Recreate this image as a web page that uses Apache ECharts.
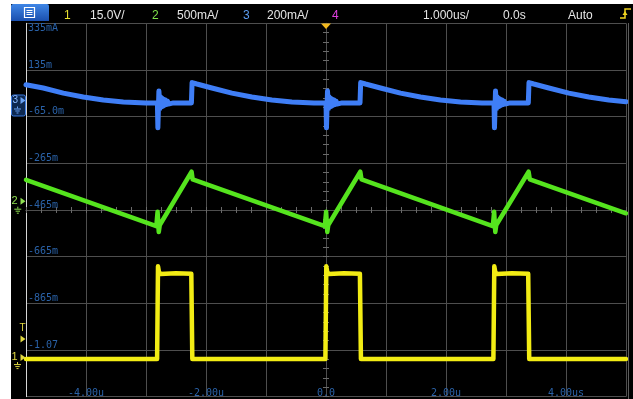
<!DOCTYPE html>
<html>
<head>
<meta charset="utf-8">
<script src="https://cdn.jsdelivr.net/npm/echarts@6/dist/echarts.min.js"></script>
<style>
  html, body { margin: 0; padding: 0; background: #fff; }
  #scope { width: 633px; height: 399px; }
</style>
</head>
<body>
<div id="scope"></div>
<script>
// ---------------- captured waveforms (time in µs) ----------------
// Channel 1: switch-node voltage (V)
const ch1Time  = [-5.000, -2.815, -2.800, -2.785, -2.760, -2.500, -2.245, -2.228,
                  -0.010,  0.005,  0.020,  0.045,  0.300,  0.565,  0.582,
                   2.790,  2.805,  2.820,  2.845,  3.100,  3.370,  3.387,  5.000];
const ch1Volts = [-0.3, -0.3, 29.5, 27.8, 27.0, 27.3, 27.1, -0.3,
                  -0.3, 29.5, 27.8, 27.0, 27.3, 27.1, -0.3,
                  -0.3, 29.5, 27.8, 27.0, 27.3, 27.1, -0.3, -0.3];

// Channel 2: inductor current (mA)
const ch2Time = [-5.000, -2.828, -2.807, -2.787, -2.770, -2.240, -2.222,
                 -0.020,  0.002,  0.022,  0.038,  0.572,  0.592,
                  2.780,  2.802,  2.822,  2.838,  3.377,  3.397,  5.000];
const ch2mA   = [234, -262, -107, -325, -250, 321, 238,
                 -262, -107, -325, -250, 321, 238,
                 -262, -107, -325, -250, 321, 238, -124];

// Channel 3: output-side current (mA)
const ch3Time = [-5.000, -4.712, -4.378, -4.045, -3.712, -3.378, -3.000,
                 -2.810, -2.802, -2.785, -2.768, -2.757, -2.743, -2.730, -2.717, -2.703,
                 -2.690, -2.677, -2.660, -2.643, -2.627, -2.610, -2.593, -2.568, -2.543,
                 -2.243, -2.232, -2.152, -1.902, -1.568, -1.235, -0.902, -0.568, -0.200,
                  0.000,  0.008,  0.025,  0.042,  0.053,  0.067,  0.080,  0.093,  0.107,
                  0.120,  0.133,  0.150,  0.167,  0.183,  0.200,  0.217,  0.242,  0.267,
                  0.567,  0.578,  0.658,  0.908,  1.242,  1.575,  1.908,  2.242,  2.600,
                  2.800,  2.808,  2.825,  2.842,  2.853,  2.867,  2.880,  2.893,  2.907,
                  2.920,  2.933,  2.950,  2.967,  2.983,  3.000,  3.017,  3.042,  3.067,
                  3.372,  3.383,  3.463,  3.713,  4.047,  4.380,  4.713,  5.000];
const ch3mA   = [72, 58, 36, 19, 6, -2, -6,
                 -6, -113, 45, -30, 20, -24, 14, -20, 10,
                 -16, 6, -13, 2, -11, -3, -9, -5, -6,
                 -6, 81, 75, 58, 36, 19, 6, -2, -6,
                 -6, -113, 45, -30, 20, -24, 14, -20, 10,
                 -16, 6, -13, 2, -11, -3, -9, -5, -6,
                 -6, 81, 75, 58, 36, 19, 6, -2, -6,
                 -6, -113, 45, -30, 20, -24, 14, -20, 10,
                 -16, 6, -13, 2, -11, -3, -9, -5, -6,
                 -6, 81, 75, 58, 36, 19, 6, -1];

// Graticule annotations
const timeTicks      = [-4, -2, 0, 2, 4];
const timeTickLabels = ['-4.00u', '-2.00u', '0.0', '2.00u', '4.00us'];
const ch3Ticks       = [335, 135, -65, -265, -465, -665, -865, -1065];
const ch3TickLabels  = ['335mA', '135m', '-65.0m', '-265m', '-465m', '-665m', '-865m', '-1.07'];
const triggerLevelV  = 6.1;

// Status bar
const statusItems = [
  { text: '1',        x: 64,  color: '#e8e030' },
  { text: '15.0V/',   x: 90,  color: '#e6e6e6' },
  { text: '2',        x: 152, color: '#7ee04a' },
  { text: '500mA/',   x: 177, color: '#e6e6e6' },
  { text: '3',        x: 243, color: '#5b9cf0' },
  { text: '200mA/',   x: 267, color: '#e6e6e6' },
  { text: '4',        x: 332, color: '#e040e0' },
  { text: '1.000us/', x: 423, color: '#e6e6e6' },
  { text: '0.0s',     x: 503, color: '#e6e6e6' },
  { text: 'Auto',     x: 568, color: '#e6e6e6' }
];

// ---------------- styling ----------------
const GRID_C  = '#4e4e4e';
const TICK_C  = '#6a6a6a';
const LABEL_C = '#2a62a8';
const MONO    = 'DejaVu Sans Mono';
const C1 = '#f2ec14', C2 = '#55e41e', C3 = '#3f7ef6';

const pairs = (ts, vs) => ts.map((t, i) => [t, vs[i]]);
const lookup = (ticks, labels) => v => {
  const i = ticks.findIndex(t => Math.abs(t - v) < 1e-6);
  return i < 0 ? '' : labels[i];
};

const centerTickAxisX = inside => ({
  type: 'value', min: -5, max: 5, interval: 1, position: 'bottom',
  axisLine: { show: true, onZero: true, onZeroAxisIndex: 3, lineStyle: { color: GRID_C } },
  axisTick: { show: true, inside, length: 3, lineStyle: { color: TICK_C } },
  minorTick: { show: true, splitNumber: 4, length: 3, lineStyle: { color: TICK_C } },
  axisLabel: { show: false }, splitLine: { show: false }
});
const centerTickAxisY = inside => ({
  type: 'value', min: -4, max: 4, interval: 1, position: 'left',
  axisLine: { show: true, onZero: true, onZeroAxisIndex: 0, lineStyle: { color: GRID_C } },
  axisTick: { show: true, inside, length: 3, lineStyle: { color: TICK_C } },
  minorTick: { show: true, splitNumber: 5, length: 3, lineStyle: { color: TICK_C } },
  axisLabel: { show: false }, splitLine: { show: false }
});

const trace = (name, data, yAxisIndex, color, width) => ({
  name, type: 'line', xAxisIndex: 0, yAxisIndex, data,
  showSymbol: false, symbol: 'none', silent: true, clip: true,
  lineStyle: { color, width, join: 'round', cap: 'round' },
  emphasis: { disabled: true }
});

const chart = echarts.init(document.getElementById('scope'));
chart.setOption({
  animation: false,
  backgroundColor: '#000',
  grid: { left: 26, top: 23.33, width: 600, height: 373.33, containLabel: false },
  xAxis: [
    {
      type: 'value', min: -5, max: 5, interval: 1, position: 'bottom',
      axisLine: { show: false, onZero: false },
      axisTick: { show: false },
      splitLine: { show: true, lineStyle: { color: GRID_C, width: 1 } },
      axisLabel: {
        inside: true, margin: -2, color: LABEL_C, fontFamily: MONO, fontSize: 10,
        formatter: lookup(timeTicks, timeTickLabels)
      }
    },
    centerTickAxisX(false),
    centerTickAxisX(true)
  ],
  yAxis: [
    {
      // channel 3, 200 mA/div
      type: 'value', min: -1265, max: 335, interval: 200, position: 'left',
      axisLine: { show: true, onZero: false, lineStyle: { color: '#d6d6d6', width: 1 } },
      axisTick: { show: false },
      splitLine: { show: true, lineStyle: { color: GRID_C, width: 1 } },
      axisLabel: {
        inside: true, margin: 2, color: LABEL_C, fontFamily: MONO, fontSize: 10,
        verticalAlign: 'bottom', verticalAlignMaxLabel: 'top',
        formatter: lookup(ch3Ticks, ch3TickLabels)
      }
    },
    // channel 2, 500 mA/div
    { type: 'value', min: -2089, max: 1911, show: false, axisLine: { onZero: false } },
    // channel 1, 15 V/div
    { type: 'value', min: -12.4, max: 107.6, show: false, axisLine: { onZero: false } },
    centerTickAxisY(false),
    centerTickAxisY(true)
  ],
  series: [
    trace('ch1', pairs(ch1Time, ch1Volts), 2, C1, 4.5),
    trace('ch2', pairs(ch2Time, ch2mA), 1, C2, 4.5),
    trace('ch3', pairs(ch3Time, ch3mA), 0, C3, 5)
  ]
});

// ---------------- overlays: status bar and channel markers ----------------
const yPix = (axis, v) => chart.convertToPixel({ yAxisIndex: axis }, v);
const g3 = yPix(0, 0), g2 = yPix(1, 0), g1 = yPix(2, 0), gT = yPix(2, triggerLevelV);
const t0 = chart.convertToPixel({ xAxisIndex: 0 }, 0);

function groundSymbol(cx, y, color) {
  return [
    { type: 'line', shape: { x1: cx, y1: y, x2: cx, y2: y + 2 } },
    { type: 'line', shape: { x1: cx - 3.5, y1: y + 2.5, x2: cx + 3.5, y2: y + 2.5 } },
    { type: 'line', shape: { x1: cx - 2.2, y1: y + 4.5, x2: cx + 2.2, y2: y + 4.5 } },
    { type: 'line', shape: { x1: cx - 1, y1: y + 6.5, x2: cx + 1, y2: y + 6.5 } }
  ].map(e => Object.assign(e, { style: { stroke: color, lineWidth: 1 }, z: 110 }));
}
function arrow(y, color) {
  return { type: 'polygon', z: 110, shape: { points: [[20.5, y - 3.5], [25.5, y], [20.5, y + 3.5]] },
           style: { fill: color } };
}
function label(text, x, y, color, size) {
  return { type: 'text', z: 110, style: { text, x, y, fill: color,
           font: size + 'px "Liberation Sans", Arial, sans-serif',
           textAlign: 'left', textVerticalAlign: 'middle' } };
}

const graphics = [
  // screen bezel
  { type: 'rect', z: 100, shape: { x: 0, y: 0, width: 11, height: 399 }, style: { fill: '#fff' } },
  { type: 'rect', z: 100, shape: { x: 0, y: 0, width: 633, height: 4 }, style: { fill: '#fff' } },
  { type: 'line', z: 100, shape: { x1: 628.5, y1: 23, x2: 628.5, y2: 399 }, style: { stroke: '#5c5c5c', lineWidth: 1 } },
  // menu button
  { type: 'rect', z: 105, shape: { x: 11, y: 4, width: 38, height: 17, r: [2, 2, 0, 0] },
    style: { fill: new echarts.graphic.LinearGradient(0, 0, 0, 1, [
      { offset: 0, color: '#3f86e6' }, { offset: 1, color: '#1a4fae' }]) } },
  { type: 'rect', z: 106, shape: { x: 24.5, y: 7.5, width: 10, height: 10 },
    style: { fill: 'none', stroke: '#fff', lineWidth: 1.2 } },
  { type: 'line', z: 106, shape: { x1: 26.5, y1: 10.5, x2: 32.5, y2: 10.5 }, style: { stroke: '#fff', lineWidth: 1 } },
  { type: 'line', z: 106, shape: { x1: 26.5, y1: 12.5, x2: 32.5, y2: 12.5 }, style: { stroke: '#fff', lineWidth: 1 } },
  { type: 'line', z: 106, shape: { x1: 26.5, y1: 14.5, x2: 32.5, y2: 14.5 }, style: { stroke: '#fff', lineWidth: 1 } },
  // trigger-type icon
  { type: 'polyline', z: 106, shape: { points: [[620, 18], [625, 18], [625, 9], [631, 9]] },
    style: { stroke: '#f0d420', lineWidth: 1.5, fill: 'none' } },
  { type: 'polygon', z: 106, shape: { points: [[622.5, 15], [627.5, 15], [625, 11]] }, style: { fill: '#f0d420' } },
  // trigger position marker
  { type: 'polygon', z: 106, shape: { points: [[t0 - 5, 23.5], [t0 + 5, 23.5], [t0, 29]] }, style: { fill: '#f2b81c' } }
];
statusItems.forEach(s => graphics.push(label(s.text, s.x, 15.5, s.color, 12)));

// channel 3 ground marker (boxed)
graphics.push({ type: 'rect', z: 108, shape: { x: 11.5, y: g3 - 6.5, width: 14, height: 21, r: 2 },
                style: { fill: '#0d2850', stroke: '#3a7ae0', lineWidth: 1 } });
graphics.push(label('3', 12.5, g3 - 1.5, '#8ab8ff', 10));
graphics.push(arrow(g3 - 1, '#6aa2f4'));
graphics.push(...groundSymbol(17.5, g3 + 5, '#6aa2f4'));
// channel 2 ground marker
graphics.push(label('2', 11.5, g2 - 1, '#8fe050', 11));
graphics.push(arrow(g2 - 0.5, '#8fe050'));
graphics.push(...groundSymbol(17.8, g2 + 5, '#8fe050'));
// channel 1 ground marker and trigger level
graphics.push(label('1', 11.5, g1 - 1, '#e0d840', 11));
graphics.push(arrow(g1 - 0.5, '#e0d840'));
graphics.push(...groundSymbol(17.5, g1 + 4, '#e0d840'));
graphics.push(label('T', 19.5, gT - 10.5, '#e0d840', 10));
graphics.push(arrow(gT, '#e0d840'));

chart.setOption({ graphic: graphics });
</script>
</body>
</html>
